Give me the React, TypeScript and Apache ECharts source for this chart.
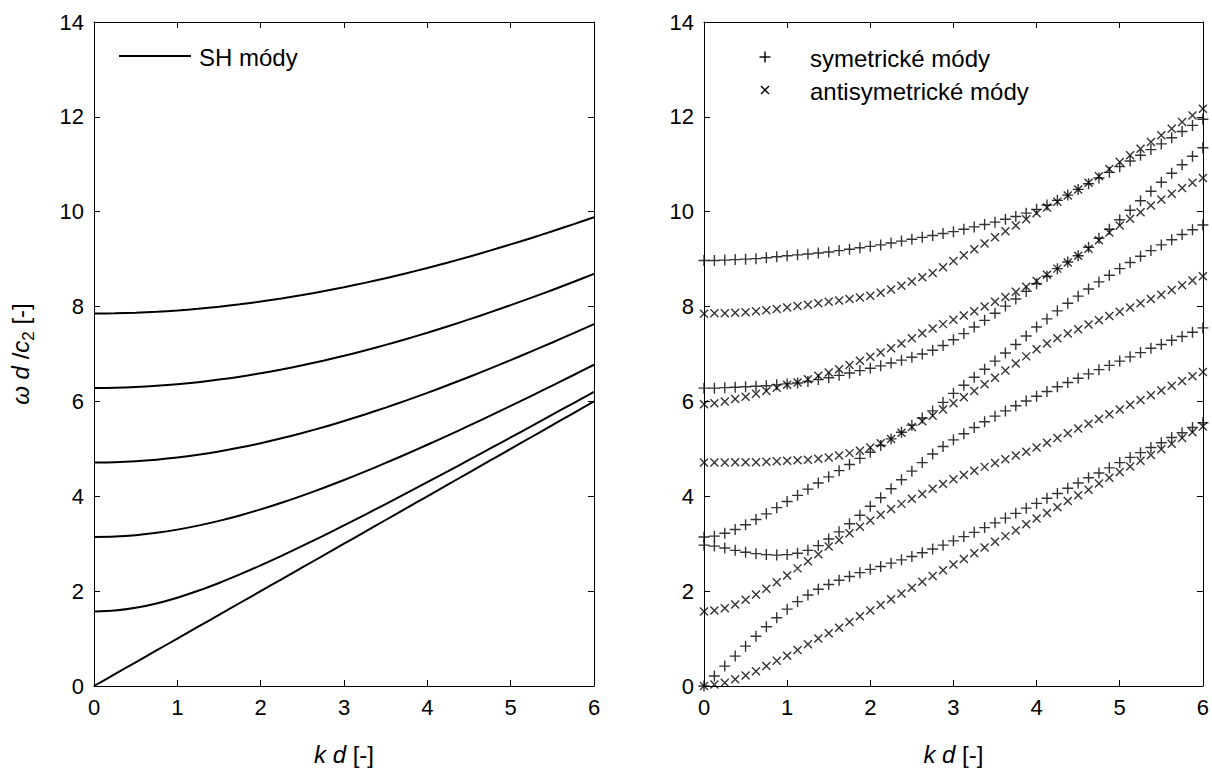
import React, { useEffect, useRef } from 'react';
import * as echarts from 'echarts';

// ---------- Left panel: SH modes ----------
const KD_SH = [
  0, 0.25, 0.5, 0.75, 1, 1.25, 1.5, 1.75, 2, 2.25, 2.5, 2.75, 3, 3.25, 3.5, 3.75, 4, 4.25, 4.5,
  4.75, 5, 5.25, 5.5, 5.75, 6,
];
const SH0 = [
  0, 0.25, 0.5, 0.75, 1, 1.25, 1.5, 1.75, 2, 2.25, 2.5, 2.75, 3, 3.25, 3.5, 3.75, 4, 4.25, 4.5,
  4.75, 5, 5.25, 5.5, 5.75, 6,
];
const SH1 = [
  1.571, 1.591, 1.649, 1.741, 1.862, 2.007, 2.172, 2.352, 2.543, 2.744, 2.953, 3.167, 3.387,
  3.61, 3.837, 4.066, 4.297, 4.531, 4.766, 5.003, 5.241, 5.48, 5.72, 5.961, 6.202,
];
const SH2 = [
  3.142, 3.151, 3.181, 3.23, 3.297, 3.381, 3.481, 3.596, 3.724, 3.864, 4.015, 4.175, 4.344,
  4.52, 4.703, 4.892, 5.086, 5.285, 5.488, 5.695, 5.905, 6.118, 6.334, 6.552, 6.773,
];
const SH3 = [
  4.712, 4.719, 4.739, 4.772, 4.817, 4.875, 4.945, 5.027, 5.119, 5.222, 5.335, 5.456, 5.586,
  5.725, 5.87, 6.022, 6.181, 6.346, 6.516, 6.691, 6.871, 7.055, 7.243, 7.435, 7.629,
];
const SH4 = [
  6.283, 6.288, 6.303, 6.328, 6.362, 6.406, 6.46, 6.522, 6.594, 6.674, 6.762, 6.859, 6.963,
  7.074, 7.192, 7.317, 7.449, 7.586, 7.729, 7.877, 8.03, 8.188, 8.35, 8.517, 8.688,
];
const SH5 = [
  7.854, 7.858, 7.87, 7.89, 7.918, 7.953, 7.996, 8.047, 8.105, 8.17, 8.243, 8.322, 8.408,
  8.5, 8.599, 8.704, 8.814, 8.93, 9.052, 9.179, 9.311, 9.447, 9.589, 9.734, 9.884,
];

// ---------- Right panel: Lamb modes ----------
const KD_LAMB = [
  0, 0.125, 0.25, 0.375, 0.5, 0.625, 0.75, 0.875, 1, 1.125, 1.25, 1.375, 1.5, 1.625, 1.75, 1.875,
  2, 2.125, 2.25, 2.375, 2.5, 2.625, 2.75, 2.875, 3, 3.125, 3.25, 3.375, 3.5, 3.625, 3.75, 3.875,
  4, 4.125, 4.25, 4.375, 4.5, 4.625, 4.75, 4.875, 5, 5.125, 5.25, 5.375, 5.5, 5.625, 5.75, 5.875, 6,
];

// symmetric modes (+)
const SYM1 = [
  0, 0.21, 0.42, 0.63, 0.84, 1.05, 1.25, 1.44, 1.62, 1.78, 1.92, 2.04, 2.14, 2.23, 2.31, 2.39,
  2.46, 2.52, 2.59, 2.66, 2.73, 2.81, 2.89, 2.97, 3.06, 3.15, 3.24, 3.34, 3.44, 3.54, 3.64, 3.75,
  3.85, 3.96, 4.06, 4.17, 4.28, 4.39, 4.49, 4.6, 4.71, 4.82, 4.92, 5.03, 5.13, 5.24, 5.34, 5.45, 5.55,
];
const SYM2 = [
  2.97, 2.95, 2.91, 2.86, 2.82, 2.79, 2.77, 2.76, 2.77, 2.8, 2.86, 2.96, 3.1, 3.25, 3.42, 3.6,
  3.79, 3.97, 4.16, 4.35, 4.53, 4.71, 4.89, 5.05, 5.19, 5.32, 5.45, 5.57, 5.69, 5.8, 5.91, 6.01,
  6.11, 6.21, 6.31, 6.4, 6.49, 6.58, 6.67, 6.76, 6.85, 6.94, 7.03, 7.12, 7.2, 7.29, 7.37, 7.46, 7.55,
];
const SYM3 = [
  3.14, 3.16, 3.22, 3.3, 3.4, 3.51, 3.63, 3.76, 3.89, 4.02, 4.15, 4.28, 4.41, 4.54, 4.67, 4.8,
  4.93, 5.07, 5.21, 5.35, 5.5, 5.65, 5.8, 5.98, 6.17, 6.34, 6.51, 6.68, 6.85, 7.02, 7.2, 7.38,
  7.57, 7.74, 7.91, 8.07, 8.22, 8.37, 8.52, 8.66, 8.8, 8.93, 9.06, 9.18, 9.3, 9.41, 9.52, 9.62, 9.72,
];
const SYM4 = [
  6.28, 6.28, 6.29, 6.3, 6.31, 6.32, 6.33, 6.35, 6.37, 6.39, 6.42, 6.46, 6.5, 6.55, 6.6, 6.65,
  6.7, 6.75, 6.81, 6.87, 6.93, 7.0, 7.08, 7.18, 7.3, 7.43, 7.57, 7.71, 7.86, 8.01, 8.16, 8.32,
  8.48, 8.64, 8.8, 8.94, 9.07, 9.25, 9.44, 9.63, 9.83, 10.03, 10.23, 10.43, 10.62, 10.81, 10.99, 11.17, 11.35,
];
const SYM5 = [
  8.97, 8.97, 8.98, 8.99, 9.0, 9.01, 9.03, 9.05, 9.07, 9.09, 9.11, 9.13, 9.15, 9.18, 9.21, 9.24,
  9.27, 9.3, 9.34, 9.38, 9.42, 9.46, 9.5, 9.54, 9.58, 9.63, 9.68, 9.73, 9.78, 9.84, 9.9, 9.97,
  10.05, 10.14, 10.24, 10.35, 10.47, 10.59, 10.71, 10.83, 10.95, 11.07, 11.19, 11.31, 11.43, 11.56, 11.69, 11.82, 11.95,
];

// antisymmetric modes (x)
const ANTI1 = [
  0, 0.03, 0.07, 0.14, 0.22, 0.31, 0.42, 0.53, 0.64, 0.76, 0.88, 1.0, 1.11, 1.23, 1.35, 1.47,
  1.59, 1.71, 1.83, 1.95, 2.07, 2.2, 2.32, 2.44, 2.56, 2.68, 2.8, 2.92, 3.04, 3.16, 3.28, 3.41,
  3.53, 3.65, 3.77, 3.9, 4.02, 4.14, 4.27, 4.39, 4.51, 4.63, 4.75, 4.87, 4.99, 5.11, 5.23, 5.35, 5.47,
];
const ANTI2 = [
  1.57, 1.59, 1.64, 1.72, 1.82, 1.93, 2.05, 2.19, 2.33, 2.48, 2.63, 2.78, 2.94, 3.08, 3.22, 3.36,
  3.49, 3.61, 3.73, 3.84, 3.95, 4.05, 4.16, 4.26, 4.36, 4.45, 4.54, 4.62, 4.7, 4.78, 4.86, 4.94,
  5.03, 5.13, 5.23, 5.33, 5.43, 5.53, 5.63, 5.73, 5.83, 5.93, 6.03, 6.13, 6.23, 6.33, 6.43, 6.53, 6.62,
];
const ANTI3 = [
  4.71, 4.71, 4.71, 4.72, 4.72, 4.72, 4.73, 4.74, 4.75, 4.76, 4.77, 4.79, 4.82, 4.86, 4.91, 4.96,
  5.03, 5.12, 5.21, 5.34, 5.46, 5.58, 5.7, 5.83, 5.96, 6.09, 6.22, 6.36, 6.5, 6.65, 6.8, 6.95,
  7.1, 7.22, 7.33, 7.43, 7.52, 7.62, 7.71, 7.8, 7.89, 7.98, 8.07, 8.16, 8.25, 8.35, 8.45, 8.55, 8.64,
];
const ANTI4 = [
  5.94, 5.96, 6.0, 6.05, 6.1, 6.16, 6.22, 6.29, 6.35, 6.4, 6.47, 6.54, 6.61, 6.68, 6.77, 6.86,
  6.94, 7.03, 7.12, 7.22, 7.33, 7.44, 7.54, 7.63, 7.72, 7.81, 7.9, 8.0, 8.1, 8.2, 8.31, 8.42,
  8.54, 8.67, 8.8, 8.93, 9.07, 9.22, 9.4, 9.56, 9.71, 9.85, 9.99, 10.13, 10.26, 10.38, 10.5, 10.61, 10.71,
];
const ANTI5 = [
  7.85, 7.86, 7.86, 7.87, 7.88, 7.9, 7.92, 7.95, 7.98, 8.01, 8.04, 8.07, 8.1, 8.13, 8.16, 8.19,
  8.23, 8.29, 8.36, 8.44, 8.53, 8.62, 8.71, 8.83, 8.96, 9.08, 9.21, 9.33, 9.46, 9.59, 9.71, 9.84,
  9.97, 10.09, 10.21, 10.34, 10.47, 10.61, 10.75, 10.9, 11.05, 11.19, 11.33, 11.47, 11.61, 11.75, 11.89, 12.03, 12.17,
];

const X_TICKS = [0, 1, 2, 3, 4, 5, 6];
const Y_TICKS = [0, 2, 4, 6, 8, 10, 12, 14];

const LEGEND_SH = 'SH módy';
const LEGEND_SYM = 'symetrické módy';
const LEGEND_ANTI = 'antisymetrické módy';

const FONT = '"Liberation Sans", Arial, Helvetica, sans-serif';

const zip = (xs: number[], ys: number[]) => xs.map((x, i) => [x, ys[i]]);

const PLUS = 'path://M0,5L10,5M5,0L5,10';
const CROSS = 'path://M0,0L10,10M0,10L10,0';

export default function App() {
  const ref = useRef<HTMLDivElement>(null);

  useEffect(() => {
    if (!ref.current) return;
    const chart = echarts.init(ref.current, undefined, { renderer: 'svg' });

    const axisLine = { show: true, onZero: false, lineStyle: { color: '#000', width: 1 } };
    const axisTick = { show: true, inside: true, length: 6, lineStyle: { color: '#000', width: 1 } };
    const axisLabel = { show: true, fontSize: 22, color: '#000', fontFamily: FONT, margin: 10 };
    const noLabel = { show: false };
    const xMin = X_TICKS[0];
    const xMax = X_TICKS[X_TICKS.length - 1];
    const yMin = Y_TICKS[0];
    const yMax = Y_TICKS[Y_TICKS.length - 1];

    const xName = '{i|k d} [-]';
    const nameStyle = {
      fontSize: 24,
      color: '#000',
      fontFamily: FONT,
      rich: {
        i: { fontSize: 24, fontStyle: 'italic', fontFamily: FONT, color: '#000' },
        s: { fontSize: 17, fontFamily: FONT, color: '#000', verticalAlign: 'bottom', lineHeight: 34 },
      },
    };

    const mkX = (grid: number, pos: 'bottom' | 'top', labels: boolean) => ({
      type: 'value',
      gridIndex: grid,
      position: pos,
      min: xMin,
      max: xMax,
      interval: 1,
      axisLine,
      axisTick,
      axisLabel: labels ? axisLabel : noLabel,
      splitLine: { show: false },
      ...(labels
        ? { name: xName, nameLocation: 'middle', nameGap: 56, nameTextStyle: nameStyle }
        : {}),
    });
    const mkY = (grid: number, pos: 'left' | 'right', labels: boolean, withName: boolean) => ({
      type: 'value',
      gridIndex: grid,
      position: pos,
      min: yMin,
      max: yMax,
      interval: 2,
      axisLine,
      axisTick,
      axisLabel: labels ? axisLabel : noLabel,
      splitLine: { show: false },
      ...(withName
        ? {
            name: '{i|ω d} /{i|c}{s|2} [-]',
            nameLocation: 'middle',
            nameRotate: 90,
            nameGap: 57,
            nameTextStyle: nameStyle,
          }
        : {}),
    });

    const shSeries = [SH0, SH1, SH2, SH3, SH4, SH5].map((ys) => ({
      type: 'line',
      xAxisIndex: 0,
      yAxisIndex: 0,
      data: zip(KD_SH, ys),
      smooth: 0.3,
      showSymbol: false,
      symbol: 'none',
      lineStyle: { color: '#000', width: 2 },
      silent: true,
    }));

    const markerStyle = { color: 'rgba(0,0,0,0)', borderColor: '#000', borderWidth: 1.4 };
    const symSeries = [SYM1, SYM2, SYM3, SYM4, SYM5].map((ys) => ({
      type: 'scatter',
      xAxisIndex: 2,
      yAxisIndex: 2,
      data: zip(KD_LAMB, ys),
      symbol: PLUS,
      symbolSize: 11,
      itemStyle: markerStyle,
      silent: true,
    }));
    const antiSeries = [ANTI1, ANTI2, ANTI3, ANTI4, ANTI5].map((ys) => ({
      type: 'scatter',
      xAxisIndex: 2,
      yAxisIndex: 2,
      data: zip(KD_LAMB, ys),
      symbol: CROSS,
      symbolSize: 8,
      itemStyle: markerStyle,
      silent: true,
    }));

    const legendText = (x: number, y: number, text: string) => ({
      type: 'text',
      x,
      y,
      style: { text, fontSize: 24, fontFamily: FONT, fill: '#000', verticalAlign: 'middle', align: 'left' },
    });
    const seg = (x1: number, y1: number, x2: number, y2: number, w: number) => ({
      type: 'line',
      shape: { x1, y1, x2, y2 },
      style: { stroke: '#000', lineWidth: w },
    });

    chart.setOption({
      animation: false,
      backgroundColor: '#fff',
      grid: [
        { left: 94, top: 22, width: 500, height: 666 },
        { left: 704, top: 22, width: 501, height: 666 },
      ],
      xAxis: [mkX(0, 'bottom', true), mkX(0, 'top', false), mkX(1, 'bottom', true), mkX(1, 'top', false)],
      yAxis: [mkY(0, 'left', true, true), mkY(0, 'right', false, false), mkY(1, 'left', true, false), mkY(1, 'right', false, false)],
      series: [...shSeries, ...symSeries, ...antiSeries],
      graphic: [
        seg(119, 56, 191, 56, 2),
        legendText(199, 57, LEGEND_SH),
        seg(759.5, 57, 770.5, 57, 1.4),
        seg(765, 51.5, 765, 62.5, 1.4),
        legendText(810, 58, LEGEND_SYM),
        seg(761, 86, 769, 94, 1.4),
        seg(761, 94, 769, 86, 1.4),
        legendText(810, 91, LEGEND_ANTI),
      ],
    });

    return () => chart.dispose();
  }, []);

  return (
    <div
      ref={ref}
      style={{ position: 'fixed', left: 0, top: 0, width: 1212, height: 771, background: '#fff' }}
    />
  );
}
